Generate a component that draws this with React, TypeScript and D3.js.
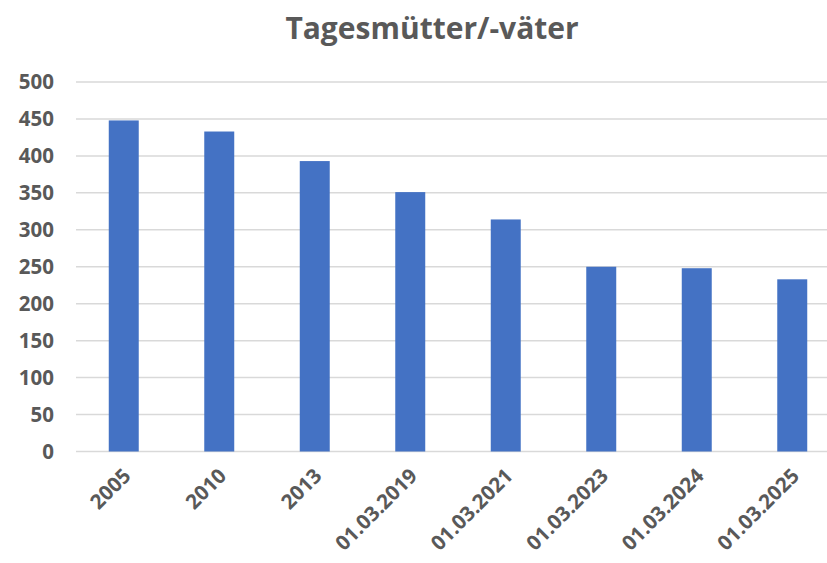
import React, { useEffect, useRef } from "react";
import * as d3 from "d3";

const categories = [
  "2005",
  "2010",
  "2013",
  "01.03.2019",
  "01.03.2021",
  "01.03.2023",
  "01.03.2024",
  "01.03.2025",
];
const values = [448, 433, 393, 351, 314, 250, 248, 233];
const yTicks = [0, 50, 100, 150, 200, 250, 300, 350, 400, 450, 500];
const title = "Tagesmütter/-väter";

const App = () => {
  const svgRef = useRef<SVGSVGElement>(null);

  useEffect(() => {
    const width = 827;
    const height = 563;
    const font = "'Open Sans', sans-serif";
    const textColor = "#595959";

    const svg = d3.select(svgRef.current);
    svg.selectAll("*").remove();
    svg.attr("width", width).attr("height", height);

    const x = d3
      .scaleBand()
      .domain(categories)
      .range([76, 840])
      .paddingInner(0.686)
      .paddingOuter(0.343);

    const y = d3.scaleLinear().domain([0, 500]).range([451.5, 82]);

    // title
    svg
      .append("text")
      .attr("x", 432)
      .attr("y", 39)
      .attr("text-anchor", "middle")
      .style("font-family", font)
      .style("font-weight", "bold")
      .style("font-size", "30px")
      .style("fill", textColor)
      .text(title);

    // gridlines
    svg
      .append("g")
      .selectAll("line")
      .data(yTicks)
      .enter()
      .append("line")
      .attr("x1", 76)
      .attr("x2", 840)
      .attr("y1", (d) => y(d))
      .attr("y2", (d) => y(d))
      .style("stroke", "#d9d9d9")
      .style("stroke-width", 1.5);

    // y labels
    svg
      .append("g")
      .selectAll("text")
      .data(yTicks)
      .enter()
      .append("text")
      .attr("x", 54)
      .attr("y", (d) => y(d))
      .attr("dy", "0.36em")
      .attr("text-anchor", "end")
      .style("font-family", font)
      .style("font-weight", "bold")
      .style("font-size", "20.5px")
      .style("fill", textColor)
      .text((d) => d);

    // bars
    svg
      .append("g")
      .selectAll("rect")
      .data(values)
      .enter()
      .append("rect")
      .attr("x", (d, i) => x(categories[i]) as number)
      .attr("y", (d) => y(d))
      .attr("width", x.bandwidth())
      .attr("height", (d) => y(0) - y(d))
      .style("fill", "#4472c4");

    // x labels
    svg
      .append("g")
      .selectAll("text")
      .data(categories)
      .enter()
      .append("text")
      .attr("transform", (d) => {
        const cx = (x(d) as number) + x.bandwidth() / 2 + 3;
        return `translate(${cx},472) rotate(-45)`;
      })
      .attr("dy", "0.36em")
      .attr("text-anchor", "end")
      .style("font-family", font)
      .style("font-weight", "bold")
      .style("font-size", "20.5px")
      .style("fill", textColor)
      .text((d) => d);
  }, []);

  return <svg ref={svgRef} style={{ position: "absolute", left: 0, top: 0 }}></svg>;
};

export default App;
